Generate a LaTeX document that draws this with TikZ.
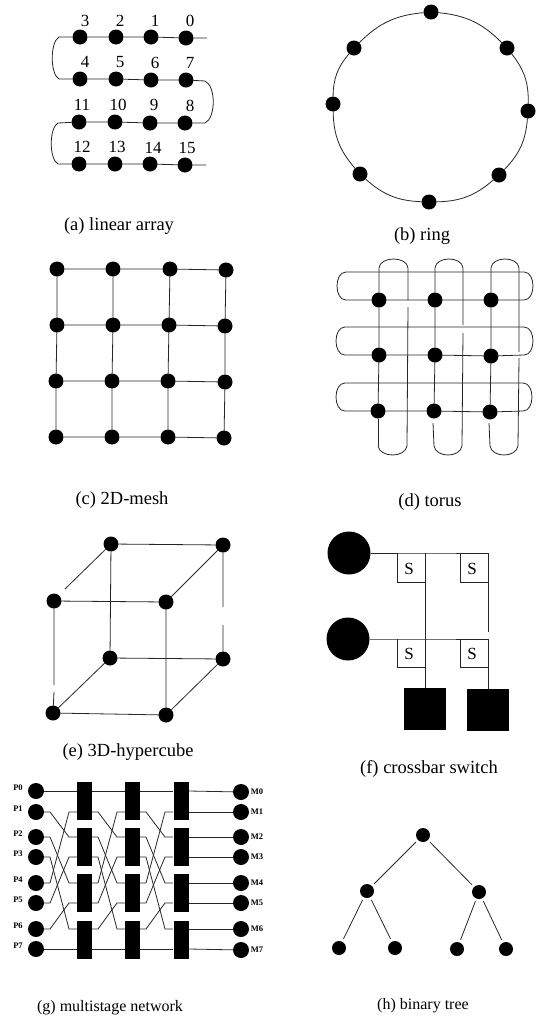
\documentclass[tikz,border=0pt]{standalone}
\usepackage{fontspec}
\usetikzlibrary{calc}
\setmainfont{Liberation Serif}
\tikzset{
  dot/.style={circle,fill=black,inner sep=0pt,outer sep=0pt,minimum size=15pt},
  bigdot/.style={circle,fill=black,inner sep=0pt,outer sep=0pt,minimum size=43pt},
  smalldot/.style={circle,fill=black,inner sep=0pt,outer sep=0pt,minimum size=16pt},
  treedot/.style={circle,fill=black,inner sep=0pt,outer sep=3pt,minimum size=14pt},
  memsq/.style={rectangle,fill=black,inner sep=0pt,outer sep=0pt,minimum size=42pt},
  swblock/.style={rectangle,fill=black,inner sep=0pt,outer sep=0pt,minimum width=15pt,minimum height=38pt},
  num/.style={font=\fontsize{17}{17}\selectfont,inner sep=0pt},
  captxt/.style={font=\fontsize{18.5}{19}\selectfont,inner sep=0pt},
  capsmall/.style={font=\fontsize{16}{17}\selectfont,inner sep=0pt},
  plabel/.style={font=\fontsize{8.5}{9}\selectfont\bfseries,inner sep=0pt},
  slabel/.style={font=\fontsize{17}{17}\selectfont,inner sep=0pt},
  wire/.style={line width=0.8pt,draw=black!85},
}
\begin{document}
\begin{tikzpicture}[x=1pt,y=-1pt,wire]
\useasboundingbox (0,0) rectangle (546,1021);
% (a) linear array
\foreach \n/\x/\y/\lx/\ly/\t in {
 n3/80/37/85/21/3,n2/116/37/120/21/2,n1/151/37/155/21/1,n0/186/38/190/21/0,
 n4/80/79/85/62/4,n5/116/79/120/62/5,n6/151/80/155/63/6,n7/186/80/190/63/7,
 n11/79/122/82/105/11,n10/115/122/118/105/10,n9/150/123/154/105/9,n8/185/123/190/106/8,
 n12/79/164/82/147/12,n13/115/164/117/147/13,n14/150/164/153/148/14,n15/185/165/187/148/15}{
  \node[dot] (\n) at (\x,\y) {};
  \node[num] (l\n) at (\lx,\ly) {\t};
}
\coordinate (aE0) at (207,38);
\coordinate (aE15) at (206,165);
\coordinate (aL1) at (59,37);
\coordinate (aL2) at (59,79);
\coordinate (aR1) at (205,81);
\coordinate (aR2) at (205,123);
\coordinate (aL3) at (58,123);
\coordinate (aL4) at (58,164);
\draw (aE0) -- (n0) -- (n1) -- (n2) -- (n3) -- (aL1) .. controls (50,42) and (50,74) .. (aL2) -- (n4) -- (n5) -- (n6) -- (n7) -- (aR1) .. controls (216,86) and (216,118) .. (aR2) -- (n8) -- (n9) -- (n10) -- (n11) -- (aL3) .. controls (49,128) and (49,159) .. (aL4) -- (n12) -- (n13) -- (n14) -- (n15) -- (aE15);
\node[captxt] (capa) at (119,226) {(a) linear array};
% (b) ring
\foreach \n/\x/\y in {r0/431/12,r1/507/48,r2/528/111,r3/499/175,r4/429/202,r5/360/174,r6/333/104,r7/354/48}
  \node[dot] (\n) at (\x,\y) {};
\draw (r0) to[bend left=20] (r1);
\draw (r1) to[bend left=20] (r2);
\draw (r2) to[bend left=20] (r3);
\draw (r3) to[bend left=20] (r4);
\draw (r4) to[bend left=20] (r5);
\draw (r5) to[bend left=20] (r6);
\draw (r6) to[bend left=20] (r7);
\draw (r7) to[bend left=20] (r0);
\node[captxt] (capb) at (422,236) {(b) ring};
% (c) mesh
\foreach \n/\x/\y in {
 m11/57/269,m12/113/269,m13/170/269,m14/226/270,
 m21/57/325,m22/113/325,m23/169/325,m24/225/326,
 m31/56/381,m32/112/381,m33/168/381,m34/225/382,
 m41/56/437,m42/112/437,m43/168/437,m44/224/438}
  \node[dot] (\n) at (\x,\y) {};
\foreach \r in {1,2,3,4}{
  \draw (m\r1) -- (m\r2) -- (m\r3) -- (m\r4);
}
\foreach \k in {1,2,3,4}{
  \draw (m1\k) -- (m2\k) -- (m3\k) -- (m4\k);
}
\node[captxt] (capc) at (122,500) {(c) 2D-mesh};
% (d) torus
\foreach \n/\x/\y in {
 t11/379/300,t12/435/300,t13/491/300,
 t21/379/355,t22/435/355,t23/491/356,
 t31/378/411,t32/434/411,t33/490/412}
  \node[dot] (\n) at (\x,\y) {};
\foreach \r/\yt/\yb/\xl/\xr in {1/272/300/337/533,2/327/355/336/533,3/383/411/336/532}{
  \coordinate (hA\r) at (\xl+9,\yt);
  \coordinate (hB\r) at (\xr-9,\yt);
  \coordinate (hC\r) at (\xl+9,\yb);
  \coordinate (hD\r) at (\xr-9,\yb);
  \draw (hC\r) .. controls (\xl-3,\yb) and (\xl-3,\yt) .. (hA\r) -- (hB\r) .. controls (\xr+3,\yt) and (\xr+3,\yb) .. (hD\r) -- (t\r3) -- (t\r2) -- (t\r1) -- (hC\r);
}
% vertical loops
\foreach \k/\xl/\xr/\ga/\gb in {1/379/408/300/307,2/435/463/325/333,3/491/519/352/358}{
  \coordinate (vA\k) at (\xl,268);
  \coordinate (vB\k) at (\xr,268);
  \coordinate (vG\k) at (\xr,\ga);
  \coordinate (vH\k) at (\xr,\gb);
  \coordinate (vJ\k) at (\xr-1,446);
  \coordinate (vK\k) at (\xl-1,446);
  \draw (t1\k) -- (vA\k) .. controls (\xl+1,256) and (\xr-1,256) .. (vB\k) -- (vG\k);
  \draw (t1\k) -- (t2\k) -- (t3\k);
  \draw (vH\k) -- (vJ\k) .. controls (\xr-3,458) and (\xl+1,458) .. (vK\k);
}
\coordinate (vL2) at (433,423);
\coordinate (vL3) at (489,423);
\draw (vK1) -- (t31);
\draw (vK2) -- (vL2);
\draw (vK3) -- (vL3);
\node[captxt] (capd) at (430,502) {(d) torus};
% (e) hypercube
\foreach \n/\x/\y in {btl/111/544,btr/223/545,ftl/54/601,ftr/166/602,bbl/110/658,bbr/223/659,fbl/53/713,fbr/166/715}
  \node[dot] (\n) at (\x,\y) {};
\coordinate (e1) at (65,589);
\coordinate (e2) at (223,607);
\coordinate (e3) at (223,625);
\coordinate (e4) at (54,685);
\coordinate (e5) at (54,692);
\draw (btl) -- (btr) (ftl) -- (ftr) (bbl) -- (bbr) (fbl) -- (fbr);
\draw (btl) -- (bbl) (ftr) -- (fbr) (bbr) -- (fbr) (bbl) -- (fbl) (btr) -- (ftr);
\draw (btl) -- (e1) (ftl) -- (e4) (e5) -- (fbl) (btr) -- (e2) (e3) -- (bbr);
\node[captxt] (cape) at (128,752) {(e) 3D-hypercube};
% (f) crossbar
\node[bigdot] (p1) at (349,553) {};
\node[bigdot] (p2) at (348,639) {};
\node[memsq] (q1) at (425,709) {};
\node[memsq] (q2) at (488,710) {};
\coordinate (fa) at (488,553);
\coordinate (fb) at (425,553);
\coordinate (fc) at (488,632);
\coordinate (fd) at (488,639);
\coordinate (fe) at (425,639);
\draw (p1) -- (fb) -- (fa) -- (fc);
\draw (p2) -- (fe) -- (fd);
\draw (fb) -- (q1.north);
\draw (fd) -- (q2.north);
\foreach \n/\x/\y/\xx/\yy in {sa/397/553/425/582,sb/460/553/488/582,sc/397/639/425/667,sd/460/639/488/667}{
  \coordinate (\n1) at (\x,\y);
  \coordinate (\n2) at (\x,\yy);
  \coordinate (\n3) at (\xx,\yy);
  \draw (\n1) -- (\n2) -- (\n3);
  \node[slabel] (\n) at ({(\x+\xx)/2-2},{(\y+\yy)/2+1}) {S};
}
\node[captxt] (capf) at (429,769) {(f) crossbar switch};
% (g) multistage
\foreach \i/\py/\my in {0/791/792,1/812/812,2/837/837,3/857/857,4/883/883,5/903/903,6/929/929,7/949/950}{
  \node[smalldot] (P\i) at (36,\py) {};
  \node[smalldot] (M\i) at (241,\my) {};
  \node[plabel] (lP\i) at (18,\py-3) {P\i};
  \node[plabel] (lM\i) at (257,\my) {M\i};
}
\foreach \s/\x in {1/84,2/132.5,3/181}{
  \foreach \bb/\y in {0/801,1/847,2/893,3/940}{
    \node[swblock] (B\s\bb) at (\x,\y) {};
  }
}
% wires: stage boundaries
\foreach \i/\y in {0/791,1/812,2/837,3/857,4/883,5/903,6/929,7/949}{
  \coordinate (wa\i) at (44,\y);
  \coordinate (wb\i) at (77,\y);
  \coordinate (wc\i) at (92,\y);
  \coordinate (wd\i) at (125,\y);
  \coordinate (wf\i) at (140,\y);
  \coordinate (wg\i) at (173,\y);
  \coordinate (wh\i) at (189,\y);
}
\foreach \i/\j in {0/0,1/2,2/4,3/6,4/1,5/3,6/5,7/7}{
  \draw (wa\i) -- ++(6,0) -- ($(wb\j)+(-8,0)$) -- (wb\j);
  \draw (wc\i) -- ++(6,0) -- ($(wd\j)+(-8,0)$) -- (wd\j);
  \draw (wf\i) -- ++(6,0) -- ($(wg\j)+(-8,0)$) -- (wg\j);
  \draw (wh\i) -- (M\i);
}
\node[capsmall] (capg) at (110,1008) {(g) multistage network};
% (h) tree
\foreach \n/\x/\y in {h0/423/835,h1/367/891,h2/479/892,h3/339/948,h4/395/948,h5/457/949,h6/506/949}
  \node[treedot] (\n) at (\x,\y) {};
\draw (h0) -- (h1) (h0) -- (h2) (h1) -- (h3) (h1) -- (h4) (h2) -- (h5) (h2) -- (h6);
\node[capsmall] (caph) at (423,1006) {(h) binary tree};
\end{tikzpicture}
\end{document}
